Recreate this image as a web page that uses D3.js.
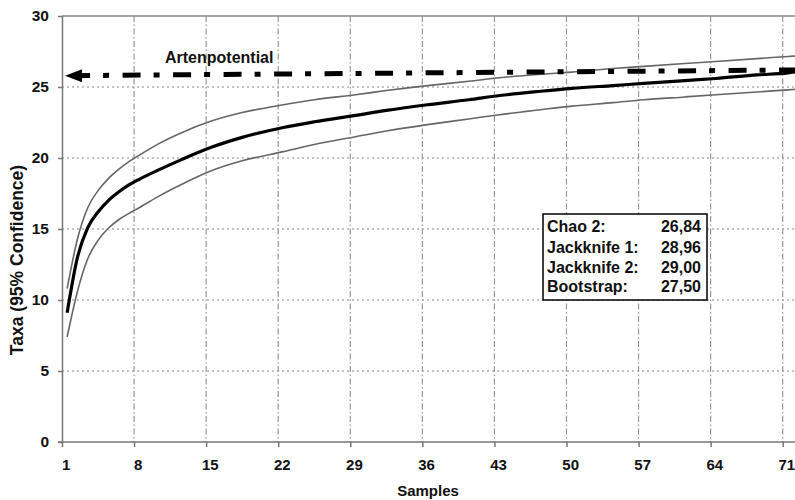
<!DOCTYPE html>
<html>
<head>
<meta charset="utf-8">
<title>Artenpotential</title>
<script src="https://d3js.org/d3.v7.min.js"></script>
<style>
  body { margin: 0; background: #fff; }
  text { font-family: "Liberation Sans", Arial, sans-serif; font-weight: bold; fill: #111; }
  .axis path, .axis line { stroke: #777; stroke-width: 1.5px; }
  .axis text { font-size: 15.5px; }
</style>
</head>
<body>
<div id="chart"></div>
<script>
const samples = [1, 2, 3, 4, 5, 6, 7, 8, 10, 12, 15, 18, 22, 25, 29, 32, 36, 40, 43, 47, 50, 54, 57, 61, 64, 68, 71, 72];
const meanTaxa = [9.1, 13.0, 15.1, 16.2, 17.0, 17.6, 18.1, 18.5, 19.2, 19.85, 20.75, 21.45, 22.15, 22.55, 23.0, 23.35, 23.75, 24.1, 24.4, 24.7, 24.9, 25.1, 25.25, 25.45, 25.6, 25.85, 26.0, 26.1];
const upperTaxa = [10.8, 14.3, 16.5, 17.7, 18.55, 19.2, 19.75, 20.2, 21.05, 21.75, 22.6, 23.2, 23.75, 24.1, 24.45, 24.75, 25.1, 25.4, 25.65, 25.9, 26.05, 26.3, 26.45, 26.65, 26.8, 27.0, 27.15, 27.2];
const lowerTaxa = [7.4, 10.6, 12.9, 14.2, 15.05, 15.65, 16.1, 16.5, 17.35, 18.1, 19.1, 19.8, 20.45, 20.95, 21.5, 21.9, 22.35, 22.75, 23.05, 23.4, 23.65, 23.9, 24.1, 24.3, 24.45, 24.65, 24.8, 24.85];

const xTicks = [1, 8, 15, 22, 29, 36, 43, 50, 57, 64, 71];
const yTicks = [0, 5, 10, 15, 20, 25, 30];

// Artenpotential arrow (sample, taxa) start/end
const potentialX = [0.8, 72];
const potentialY = [25.8, 26.2];

const estimators = ["Chao 2:", "Jackknife 1:", "Jackknife 2:", "Bootstrap:"];
const estimates = ["26,84", "28,96", "29,00", "27,50"];

const width = 795, height = 500;
const svg = d3.select("#chart").append("svg")
    .attr("width", width)
    .attr("height", height);

const x = d3.scaleLinear().domain([0.5, 71.5]).range([62, 793]);
const y = d3.scaleLinear().domain([0, 30]).range([442, 16]);

// horizontal gridlines (dotted)
svg.append("g").selectAll("line")
    .data(yTicks.filter(d => d > 0 && d < 30))
    .join("line")
    .attr("x1", 62).attr("x2", width)
    .attr("y1", d => y(d)).attr("y2", d => y(d))
    .attr("stroke", "#888")
    .attr("stroke-width", 1.2)
    .attr("stroke-dasharray", "2,3");

// top border
svg.append("line")
    .attr("x1", 62).attr("x2", width)
    .attr("y1", y(30)).attr("y2", y(30))
    .attr("stroke", "#888").attr("stroke-width", 1.5);

// vertical gridlines (dash-dot)
svg.append("g").selectAll("line")
    .data(xTicks.slice(1))
    .join("line")
    .attr("x1", d => x(d - 0.5)).attr("x2", d => x(d - 0.5))
    .attr("y1", y(30)).attr("y2", y(0))
    .attr("stroke", "#999")
    .attr("stroke-width", 1.2)
    .attr("stroke-dasharray", "6,2.5,1.5,2.5");

// y axis
svg.append("g")
    .attr("class", "axis")
    .attr("transform", "translate(62,0)")
    .call(d3.axisLeft(y).tickValues(yTicks).tickSize(4).tickPadding(9).tickSizeOuter(0))
    .selectAll("text").attr("fill", "#111");

// x axis: tick marks on category boundaries
const xAxis = svg.append("g")
    .attr("class", "axis")
    .attr("transform", `translate(0,${y(0)})`);
xAxis.call(d3.axisBottom(x).tickValues(xTicks.map(d => d - 0.5)).tickSize(5).tickFormat("").tickSizeOuter(0));
xAxis.select(".domain").attr("d", `M58,0H${width}`);

// x labels centred on categories
const xLab = svg.append("g")
    .attr("class", "axis")
    .attr("transform", `translate(-1.5,${y(0)})`)
    .call(d3.axisBottom(x).tickValues(xTicks).tickSize(0).tickPadding(17));
xLab.select(".domain").remove();
xLab.selectAll("text").attr("fill", "#111").style("font-size", "15px");

// curves
const pts = vals => samples.map((s, i) => [s, vals[i]]);
const line = d3.line()
    .x(d => x(d[0]))
    .y(d => y(d[1]))
    .curve(d3.curveMonotoneX);

svg.append("path").datum(pts(upperTaxa))
    .attr("d", line).attr("fill", "none")
    .attr("stroke", "#666").attr("stroke-width", 1.6);
svg.append("path").datum(pts(lowerTaxa))
    .attr("d", line).attr("fill", "none")
    .attr("stroke", "#666").attr("stroke-width", 1.6);
svg.append("path").datum(pts(meanTaxa))
    .attr("d", line).attr("fill", "none")
    .attr("stroke", "#000").attr("stroke-width", 3.2);

// Artenpotential arrow
const ax0 = x(potentialX[0]), ay0 = y(potentialY[0]);
const ax1 = x(potentialX[1]), ay1 = y(potentialY[1]);
svg.append("line")
    .attr("x1", ax0 + 7).attr("y1", ay0)
    .attr("x2", ax1).attr("y2", ay1)
    .attr("stroke", "#000")
    .attr("stroke-width", 5)
    .attr("stroke-dasharray", "18,13,6,13.5");
svg.append("path")
    .attr("d", `M${ax0},${ay0}L${ax0 + 17},${ay0 - 6.5}L${ax0 + 17},${ay0 + 6.5}Z`)
    .attr("fill", "#000");
svg.append("text")
    .attr("x", 165).attr("y", 62.5)
    .attr("font-size", "16px")
    .text("Artenpotential");

// estimator box
const box = svg.append("g");
box.append("rect")
    .attr("x", 543).attr("y", 214)
    .attr("width", 164).attr("height", 86)
    .attr("fill", "#fff")
    .attr("stroke", "#000").attr("stroke-width", 1.5);
const rowY = [231.5, 252.5, 272.5, 292];
box.selectAll("text.lab").data(estimators).join("text")
    .attr("class", "lab")
    .attr("x", 547).attr("y", (d, i) => rowY[i])
    .attr("font-size", "16px")
    .text(d => d);
box.selectAll("text.val").data(estimates).join("text")
    .attr("class", "val")
    .attr("x", 701).attr("y", (d, i) => rowY[i])
    .attr("text-anchor", "end")
    .attr("font-size", "16px")
    .text(d => d);

// axis titles
svg.append("text")
    .attr("x", 428).attr("y", 496)
    .attr("text-anchor", "middle")
    .attr("font-size", "15px")
    .text("Samples");
svg.append("text")
    .attr("transform", "translate(23,260) rotate(-90)")
    .attr("text-anchor", "middle")
    .attr("font-size", "17.5px")
    .text("Taxa (95% Confidence)");
</script>
</body>
</html>
